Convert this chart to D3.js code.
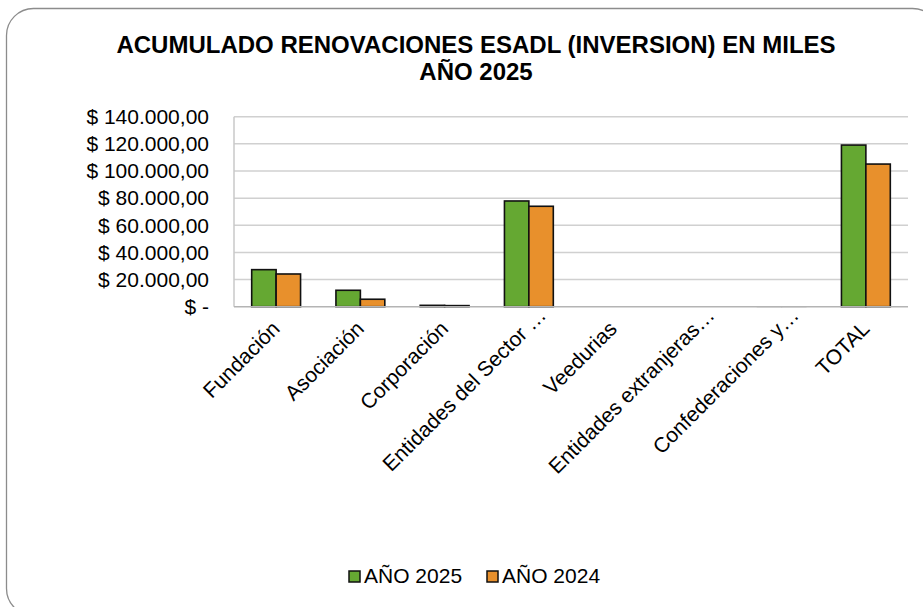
<!DOCTYPE html>
<html>
<head>
<meta charset="utf-8">
<script src="https://cdn.jsdelivr.net/npm/d3@7"></script>
<style>
  body { margin: 0; background: #fff; }
  svg { display: block; font-family: "Liberation Sans", Arial, sans-serif; }
</style>
</head>
<body>
<svg id="chart" width="923" height="607"></svg>
<script>
// chart data
const categories = ["Fundación", "Asociación", "Corporación", "Entidades del Sector …",
    "Veedurias", "Entidades extranjeras…", "Confederaciones y…", "TOTAL"];
const series = ["AÑO 2025", "AÑO 2024"];
const values2025 = [27300, 12100, 1000, 77900, 0, 0, 100, 119100];
const values2024 = [24100, 5500, 800, 74000, 0, 0, 80, 105100];
const yTicks = [0, 20000, 40000, 60000, 80000, 100000, 120000, 140000];
const colors = ["#65a832", "#e8902c"];

const svg = d3.select("#chart");
const plot = { left: 234, right: 908, top: 116.7, bottom: 306.7 };

// outer frame
svg.append("rect")
    .attr("x", 6.5).attr("y", 8.5)
    .attr("width", 933).attr("height", 607)
    .attr("rx", 27).attr("ry", 27)
    .attr("fill", "#fff")
    .attr("stroke", "#8c8c8c")
    .attr("stroke-width", 1.3);

// title
const title = svg.append("text")
    .attr("text-anchor", "middle")
    .attr("font-weight", "bold")
    .attr("font-size", 24)
    .attr("fill", "#000");
title.append("tspan").attr("x", 476).attr("y", 53)
    .text("ACUMULADO RENOVACIONES ESADL (INVERSION) EN MILES");
title.append("tspan").attr("x", 476).attr("y", 80)
    .text("AÑO 2025");

const x = d3.scaleBand()
    .domain(categories)
    .range([plot.left, plot.right])
    .paddingInner(0.42)
    .paddingOuter(0.21);

const xs = d3.scaleBand()
    .domain(series)
    .range([0, x.bandwidth()]);

const y = d3.scaleLinear()
    .domain([0, 140000])
    .range([plot.bottom, plot.top]);

const fmt = v => v === 0 ? "$ -" :
    "$ " + d3.format(",.2f")(v).replace(/,/g, "#").replace(".", ",").replace(/#/g, ".");

// gridlines
svg.append("g")
    .selectAll("line")
    .data(yTicks.filter(d => d > 0))
    .join("line")
    .attr("x1", plot.left).attr("x2", plot.right)
    .attr("y1", d => y(d)).attr("y2", d => y(d))
    .attr("stroke", "#d0d0d0")
    .attr("stroke-width", 1.5);

// left axis line
svg.append("line")
    .attr("x1", plot.left).attr("x2", plot.left)
    .attr("y1", plot.top).attr("y2", plot.bottom)
    .attr("stroke", "#c8c8c8")
    .attr("stroke-width", 1.5);

// y axis labels
const yAxis = svg.append("g")
    .attr("transform", `translate(${plot.left - 25},0)`)
    .call(d3.axisLeft(y).tickValues(yTicks).tickFormat(fmt).tickSize(0).tickPadding(0));
yAxis.select(".domain").remove();
yAxis.selectAll("text")
    .attr("font-family", "Liberation Sans, Arial, sans-serif")
    .attr("font-size", 21)
    .attr("fill", "#000");

// bars
const groups = svg.append("g")
    .selectAll("g")
    .data(categories)
    .join("g")
    .attr("transform", d => `translate(${x(d)},0)`);

groups.selectAll("rect")
    .data((d, i) => [
        { s: series[0], v: values2025[i] },
        { s: series[1], v: values2024[i] },
    ])
    .join("rect")
    .attr("x", d => xs(d.s))
    .attr("y", d => y(d.v))
    .attr("width", xs.bandwidth())
    .attr("height", d => plot.bottom - y(d.v))
    .attr("fill", (d, i) => colors[i])
    .attr("stroke", d => d.v > 0 ? (d.v < 500 ? "#8a8a8a" : "#111") : "none")
    .attr("stroke-width", d => d.v < 500 ? 1 : 1.6);

// x axis baseline
svg.append("line")
    .attr("x1", plot.left).attr("x2", plot.right)
    .attr("y1", plot.bottom).attr("y2", plot.bottom)
    .attr("stroke", "#b4b4b4")
    .attr("stroke-width", 1.5);

// x labels (truncated ones sit a little further along)
svg.append("g")
    .selectAll("text")
    .data(categories)
    .join("text")
    .attr("transform", d => `translate(${x(d) + x.bandwidth() / 2 + 5},330) rotate(-45)`)
    .attr("dx", d => d.endsWith("…") ? 19 : 0)
    .attr("text-anchor", "end")
    .attr("font-size", 21)
    .attr("fill", "#000")
    .text(d => d);

// legend
const legend = svg.append("g")
    .selectAll("g")
    .data(series)
    .join("g")
    .attr("transform", (d, i) => `translate(${349 + i * 138},571)`);
legend.append("rect")
    .attr("width", 11).attr("height", 11)
    .attr("fill", (d, i) => colors[i])
    .attr("stroke", "#111")
    .attr("stroke-width", 1.5);
legend.append("text")
    .attr("x", 15).attr("y", 12)
    .attr("font-size", 21)
    .attr("fill", "#000")
    .text(d => d);
</script>
</body>
</html>
